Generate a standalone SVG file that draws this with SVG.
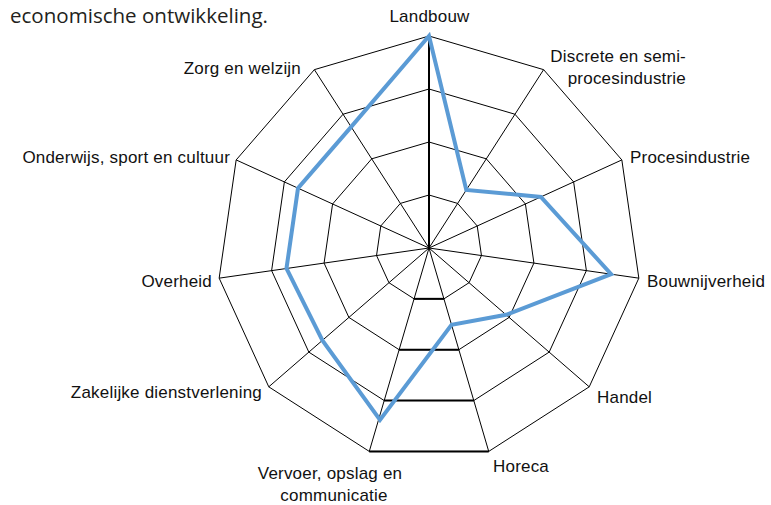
<svg xmlns="http://www.w3.org/2000/svg" width="771" height="505" viewBox="0 0 771 505">
<style>
.bg{fill:#ffffff}
.ring{fill:none;stroke:#000;stroke-width:1}
.spoke{stroke:#000;stroke-width:1}
.bold{stroke:#000;stroke-width:2}
.series{fill:none;stroke:#5B9BD5;stroke-width:4;stroke-linejoin:miter}
.lbl{font-family:"Liberation Sans",Arial,sans-serif;font-size:17px;letter-spacing:0.2px;fill:#111}
.cap{font-family:"Open Sans","Noto Sans",sans-serif;font-size:20px;fill:#231F20}
</style>
<rect class="bg" x="0" y="0" width="771" height="505"/>
<text class="cap" x="10" y="23" textLength="258" lengthAdjust="spacingAndGlyphs">economische ontwikkeling.</text>
<g id="grid">
<polygon class="ring" points="429,195 457.65,203.41 477.21,225.98 481.46,255.54 469.05,282.71 443.93,298.85 414.07,298.85 388.95,282.71 376.54,255.54 380.79,225.98 400.35,203.41"/>
<polygon class="ring" points="429,142 486.31,158.83 525.42,203.97 533.92,263.08 509.11,317.42 458.86,349.71 399.14,349.71 348.89,317.42 324.08,263.08 332.58,203.97 371.69,158.83"/>
<polygon class="ring" points="429,89 514.96,114.24 573.63,181.95 586.38,270.63 549.16,352.12 473.8,400.56 384.2,400.56 308.84,352.12 271.62,270.63 284.37,181.95 343.04,114.24"/>
<polygon class="ring" points="429,36 543.62,69.65 621.84,159.93 638.84,278.17 589.22,386.83 488.73,451.41 369.27,451.41 268.78,386.83 219.16,278.17 236.16,159.93 314.38,69.65"/>
<line class="bold" x1="414.07" y1="298.85" x2="443.93" y2="298.85"/>
<line class="bold" x1="399.14" y1="349.71" x2="458.86" y2="349.71"/>
<line class="bold" x1="384.2" y1="400.56" x2="473.8" y2="400.56"/>
<line class="bold" x1="369.27" y1="451.41" x2="488.73" y2="451.41"/>
</g>
<g id="axes">
<line class="bold" x1="429" y1="248" x2="429" y2="36"/>
<line class="spoke" x1="429" y1="248" x2="543.62" y2="69.65"/>
<line class="spoke" x1="429" y1="248" x2="621.84" y2="159.93"/>
<line class="spoke" x1="429" y1="248" x2="638.84" y2="278.17"/>
<line class="spoke" x1="429" y1="248" x2="589.22" y2="386.83"/>
<line class="spoke" x1="429" y1="248" x2="488.73" y2="451.41"/>
<line class="spoke" x1="429" y1="248" x2="369.27" y2="451.41"/>
<line class="spoke" x1="429" y1="248" x2="268.78" y2="386.83"/>
<line class="spoke" x1="429" y1="248" x2="219.16" y2="278.17"/>
<line class="spoke" x1="429" y1="248" x2="236.16" y2="159.93"/>
<line class="spoke" x1="429" y1="248" x2="314.38" y2="69.65"/>
</g>
<g id="series">
<polygon class="series" points="429,36 466.3,189.95 540.88,196.9 611.13,274.19 506.09,314.8 451.54,324.76 380,420 322.44,340.34 286.47,268.49 298.01,188.18 351.15,126.86"/>
</g>
<g id="labels">
<g id="lbl-landbouw"><text class="lbl" x="429.5" y="22" text-anchor="middle">Landbouw</text></g>
<g id="lbl-discrete"><text class="lbl" x="686" y="62" text-anchor="end">Discrete en semi-</text><text class="lbl" x="686" y="84" text-anchor="end">procesindustrie</text></g>
<g id="lbl-proces"><text class="lbl" x="630" y="163">Procesindustrie</text></g>
<g id="lbl-bouw"><text class="lbl" x="647" y="287">Bouwnijverheid</text></g>
<g id="lbl-handel"><text class="lbl" x="597" y="403">Handel</text></g>
<g id="lbl-horeca"><text class="lbl" x="493" y="472">Horeca</text></g>
<g id="lbl-vervoer"><text class="lbl" x="330" y="479" text-anchor="middle">Vervoer, opslag en</text><text class="lbl" x="334" y="501" text-anchor="middle">communicatie</text></g>
<g id="lbl-zakelijk"><text class="lbl" x="262" y="398" text-anchor="end">Zakelijke dienstverlening</text></g>
<g id="lbl-overheid"><text class="lbl" x="212" y="287" text-anchor="end">Overheid</text></g>
<g id="lbl-onderwijs"><text class="lbl" x="230" y="163" text-anchor="end">Onderwijs, sport en cultuur</text></g>
<g id="lbl-zorg"><text class="lbl" x="301" y="74" text-anchor="end">Zorg en welzijn</text></g>
</g>
</svg>
